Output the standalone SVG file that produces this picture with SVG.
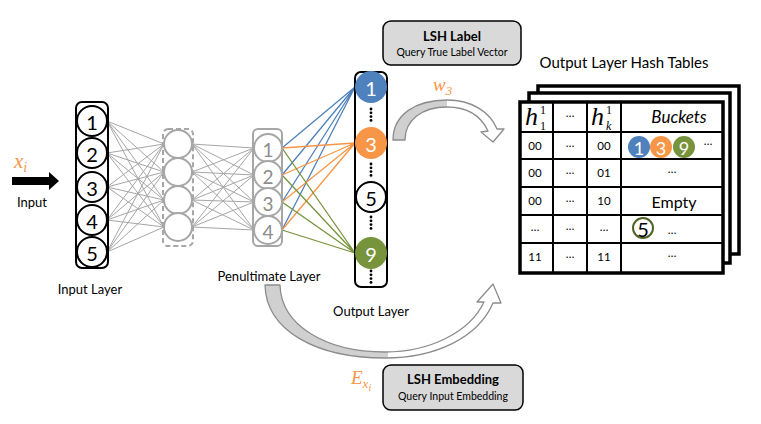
<svg xmlns="http://www.w3.org/2000/svg" xmlns:xlink="http://www.w3.org/1999/xlink" width="761" height="424" viewBox="0 0 761 424">
<style>
.lbl{font-family:Lato,"Liberation Sans",sans-serif;fill:#000;}
.num{font-family:Lato,"Liberation Sans",sans-serif;font-size:20px;text-anchor:middle;dominant-baseline:central;}
.math{font-family:"Liberation Serif",serif;font-style:italic;fill:#f79646;}
.gl{stroke:#a6a6a6;stroke-width:1;fill:none;}
.cell{font-family:Lato,"Liberation Sans",sans-serif;font-size:11.5px;text-anchor:middle;fill:#000;}
.tbl{fill:#fff;stroke:#000;stroke-width:3.5;}
.grid{stroke:#000;stroke-width:2;fill:none;}
.box{fill:#d9d9d9;stroke:#000;stroke-width:1.5;}
.curv{stroke:#8c8c8c;stroke-width:1.3;stroke-linejoin:round;}
.hm{font-family:"Liberation Serif",serif;font-size:12px;fill:#000;}
.hh{font-family:"Liberation Serif",serif;font-style:italic;font-size:26px;fill:#000;}
</style>
<defs>
<linearGradient id="gTop" gradientUnits="userSpaceOnUse" x1="393" y1="0" x2="504" y2="0">
<stop offset="0" stop-color="#d0d0d0"/><stop offset="0.49" stop-color="#d0d0d0"/><stop offset="0.49" stop-color="#fff"/><stop offset="1" stop-color="#fff"/>
</linearGradient>
<linearGradient id="gBot" gradientUnits="userSpaceOnUse" x1="265" y1="0" x2="501" y2="0">
<stop offset="0" stop-color="#d0d0d0"/><stop offset="0.52" stop-color="#d0d0d0"/><stop offset="0.52" stop-color="#fff"/><stop offset="1" stop-color="#fff"/>
</linearGradient>
<g id="dots" fill="#000">
<circle cx="0" cy="0" r="1.4"/><circle cx="0" cy="3.8" r="1.4"/><circle cx="0" cy="7.6" r="1.4"/><circle cx="0" cy="11.4" r="1.4"/>
</g>
</defs>
<rect width="761" height="424" fill="#fff"/>

<!-- connectors -->
<g id="connectors">
<g class="gl">
<path d="M107,121L164,144M107,121L164,172M107,121L164,200M107,121L164,227
M107,153L164,144M107,153L164,172M107,153L164,200M107,153L164,227
M107,187L164,144M107,187L164,172M107,187L164,200M107,187L164,227
M107,220L164,144M107,220L164,172M107,220L164,200M107,220L164,227
M107,252L164,144M107,252L164,172M107,252L164,200M107,252L164,227"/>
<path d="M192,144L254,148M192,144L254,175M192,144L254,202M192,144L254,230
M192,172L254,148M192,172L254,175M192,172L254,202M192,172L254,230
M192,200L254,148M192,200L254,175M192,200L254,202M192,200L254,230
M192,227L254,148M192,227L254,175M192,227L254,202M192,227L254,230"/>
</g>
<path d="M282,148L355,87M282,175L355,87M282,202L355,87M282,230L355,87" stroke="#4f81bd" stroke-width="1.3" fill="none"/>
<path d="M282,148L355,143M282,175L355,143M282,202L355,143M282,230L355,143" stroke="#f79646" stroke-width="1.3" fill="none"/>
<path d="M282,148L355,253M282,175L355,253M282,202L355,253M282,230L355,253" stroke="#77933c" stroke-width="1.3" fill="none"/>
<polygon points="12,177 49,177 49,172 59,181 49,190 49,185 12,185" fill="#000"/>
<path class="curv" fill="url(#gTop)" d="M393,140 C393,115 415,100 447,100 C472,100 490,112 497,129 L504,129 L493,142 L481,132 L488,131 C481,116 468,107 447,107 C422,107 405,120 405,140 Z"/>
<path class="curv" fill="url(#gBot)" d="M265,285 L280,285 C281,325 325,352 385,352 C430,352 470,332 484,302 L477,302 L493,284 L501,303 L493,303 C478,338 435,358 385,358 C315,358 266,330 265,285 Z"/>
</g>

<!-- input label -->
<g id="input">
<text class="math" x="14" y="168" font-size="21">x<tspan font-size="14" dy="4">i</tspan></text>
<text class="lbl" x="32" y="207" font-size="13" text-anchor="middle">Input</text>
</g>

<!-- input layer -->
<g id="input-layer">
<rect x="76" y="102" width="32" height="166" rx="6" fill="none" stroke="#000" stroke-width="2"/>
<g fill="#fff" stroke="#000" stroke-width="2">
<circle cx="92" cy="121" r="15"/><circle cx="92" cy="153" r="15"/><circle cx="92" cy="187" r="15"/><circle cx="92" cy="220" r="15"/><circle cx="92" cy="252" r="15"/>
</g>
<g class="num" fill="#000">
<text x="92" y="122">1</text><text x="92" y="154">2</text><text x="92" y="188">3</text><text x="92" y="221">4</text><text x="92" y="253">5</text>
</g>
<text class="lbl" x="90" y="294" font-size="13" text-anchor="middle">Input Layer</text>
</g>

<!-- hidden layer -->
<g id="hidden-layer">
<rect x="163" y="129" width="30" height="117" rx="5" fill="none" stroke="#a6a6a6" stroke-width="2" stroke-dasharray="5,3"/>
<g fill="#fff" stroke="#a6a6a6" stroke-width="2">
<circle cx="178" cy="144" r="14"/><circle cx="178" cy="172" r="14"/><circle cx="178" cy="200" r="14"/><circle cx="178" cy="227" r="14"/>
</g>
</g>

<!-- penultimate layer -->
<g id="penultimate-layer">
<rect x="253" y="129" width="29" height="117" rx="5" fill="none" stroke="#a6a6a6" stroke-width="2"/>
<g fill="#fff" stroke="#a6a6a6" stroke-width="2">
<circle cx="268" cy="148" r="14"/><circle cx="268" cy="175" r="14"/><circle cx="268" cy="202" r="14"/><circle cx="268" cy="230" r="14"/>
</g>
<g class="num" fill="#8c8c8c">
<text x="268" y="149" font-size="19">1</text><text x="268" y="176" font-size="19">2</text><text x="268" y="203" font-size="19">3</text><text x="268" y="231" font-size="19">4</text>
</g>
<text class="lbl" x="269" y="281" font-size="13" text-anchor="middle">Penultimate Layer</text>
</g>

<!-- output layer -->
<g id="output-layer">
<rect x="355" y="72" width="32" height="215" rx="6" fill="#fff" stroke="#000" stroke-width="2"/>
<circle cx="371" cy="87" r="16" fill="#4f81bd"/>
<circle cx="371" cy="143" r="16" fill="#f79646"/>
<circle cx="371" cy="197" r="15" fill="#fff" stroke="#000" stroke-width="2"/>
<circle cx="371" cy="253" r="16" fill="#77933c"/>
<g class="num">
<text x="371" y="88" fill="#fff">1</text><text x="371" y="144" fill="#fff">3</text><text x="371" y="198" fill="#000">5</text><text x="371" y="254" fill="#fff">9</text>
</g>
<use xlink:href="#dots" x="371" y="109"/>
<use xlink:href="#dots" x="371" y="164"/>
<use xlink:href="#dots" x="371" y="217"/>
<use xlink:href="#dots" x="371" y="271"/>
<text class="lbl" x="371" y="316" font-size="13" text-anchor="middle">Output Layer</text>
</g>

<!-- LSH Label -->
<g id="lsh-label">
<rect class="box" x="383" y="21" width="138" height="44" rx="8"/>
<text class="lbl" x="452" y="41" font-size="13" font-weight="bold" text-anchor="middle">LSH Label</text>
<text class="lbl" x="452" y="56" font-size="10.5" text-anchor="middle">Query True Label Vector</text>
<text class="math" x="433" y="91" font-size="19">w<tspan font-size="13" dy="4">3</tspan></text>
</g>

<!-- LSH Embedding -->
<g id="lsh-embedding">
<rect class="box" x="383" y="365" width="140" height="45" rx="8"/>
<text class="lbl" x="453" y="384" font-size="13" font-weight="bold" text-anchor="middle">LSH Embedding</text>
<text class="lbl" x="453" y="400" font-size="10.5" text-anchor="middle">Query Input Embedding</text>
<text class="math" x="351" y="384" font-size="19">E<tspan font-size="13" dy="4">x</tspan><tspan font-size="10" dy="3">i</tspan></text>
</g>

<!-- hash tables -->
<g id="hash-tables">
<text class="lbl" x="624" y="68" font-size="15" text-anchor="middle">Output Layer Hash Tables</text>
<rect class="tbl" x="538" y="86" width="201" height="168"/>
<rect class="tbl" x="529" y="93" width="201" height="170"/>
<rect class="tbl" x="520" y="102" width="203" height="171"/>
<path class="grid" d="M553,102V273M587,102V273M621,102V273M520,132H723M520,159H723M520,187H723M520,215H723M520,243H723"/>
<text class="hh" x="525" y="125">h</text>
<text class="hm" x="540" y="114">1</text>
<text class="hm" x="540" y="130">1</text>
<text class="hh" x="591" y="125">h</text>
<text class="hm" x="606" y="114">1</text>
<text class="hm" x="606" y="130" font-style="italic">k</text>
<text class="cell" x="570" y="117">…</text>
<text class="lbl" x="679" y="123" font-size="17" font-style="italic" text-anchor="middle">Buckets</text>
<g class="cell">
<text x="535" y="150">00</text><text x="570" y="147">…</text><text x="604" y="150">00</text>
<text x="535" y="177">00</text><text x="570" y="174">…</text><text x="604" y="177">01</text>
<text x="535" y="205">00</text><text x="570" y="202">…</text><text x="604" y="205">10</text>
<text x="535" y="231">…</text><text x="570" y="230">…</text><text x="604" y="231">…</text>
<text x="535" y="261">11</text><text x="570" y="258">…</text><text x="604" y="261">11</text>
<text x="672" y="173">…</text>
<text x="708" y="145">…</text>
<text x="672" y="234">…</text>
<text x="672" y="257">…</text>
</g>
<circle cx="639" cy="147" r="11" fill="#4f81bd"/>
<circle cx="661" cy="147" r="11" fill="#f79646"/>
<circle cx="684" cy="147" r="11" fill="#77933c"/>
<g class="num">
<text x="639" y="148" fill="#fff" font-size="18">1</text><text x="661" y="148" fill="#fff" font-size="18">3</text><text x="684" y="148" fill="#fff" font-size="18">9</text>
</g>
<text class="lbl" x="674" y="208" font-size="16" text-anchor="middle">Empty</text>
<circle cx="643" cy="228" r="10" fill="#fff" stroke="#4f6228" stroke-width="2"/>
<text class="num" x="643" y="229" font-size="18" fill="#000">5</text>
</g>
</svg>
